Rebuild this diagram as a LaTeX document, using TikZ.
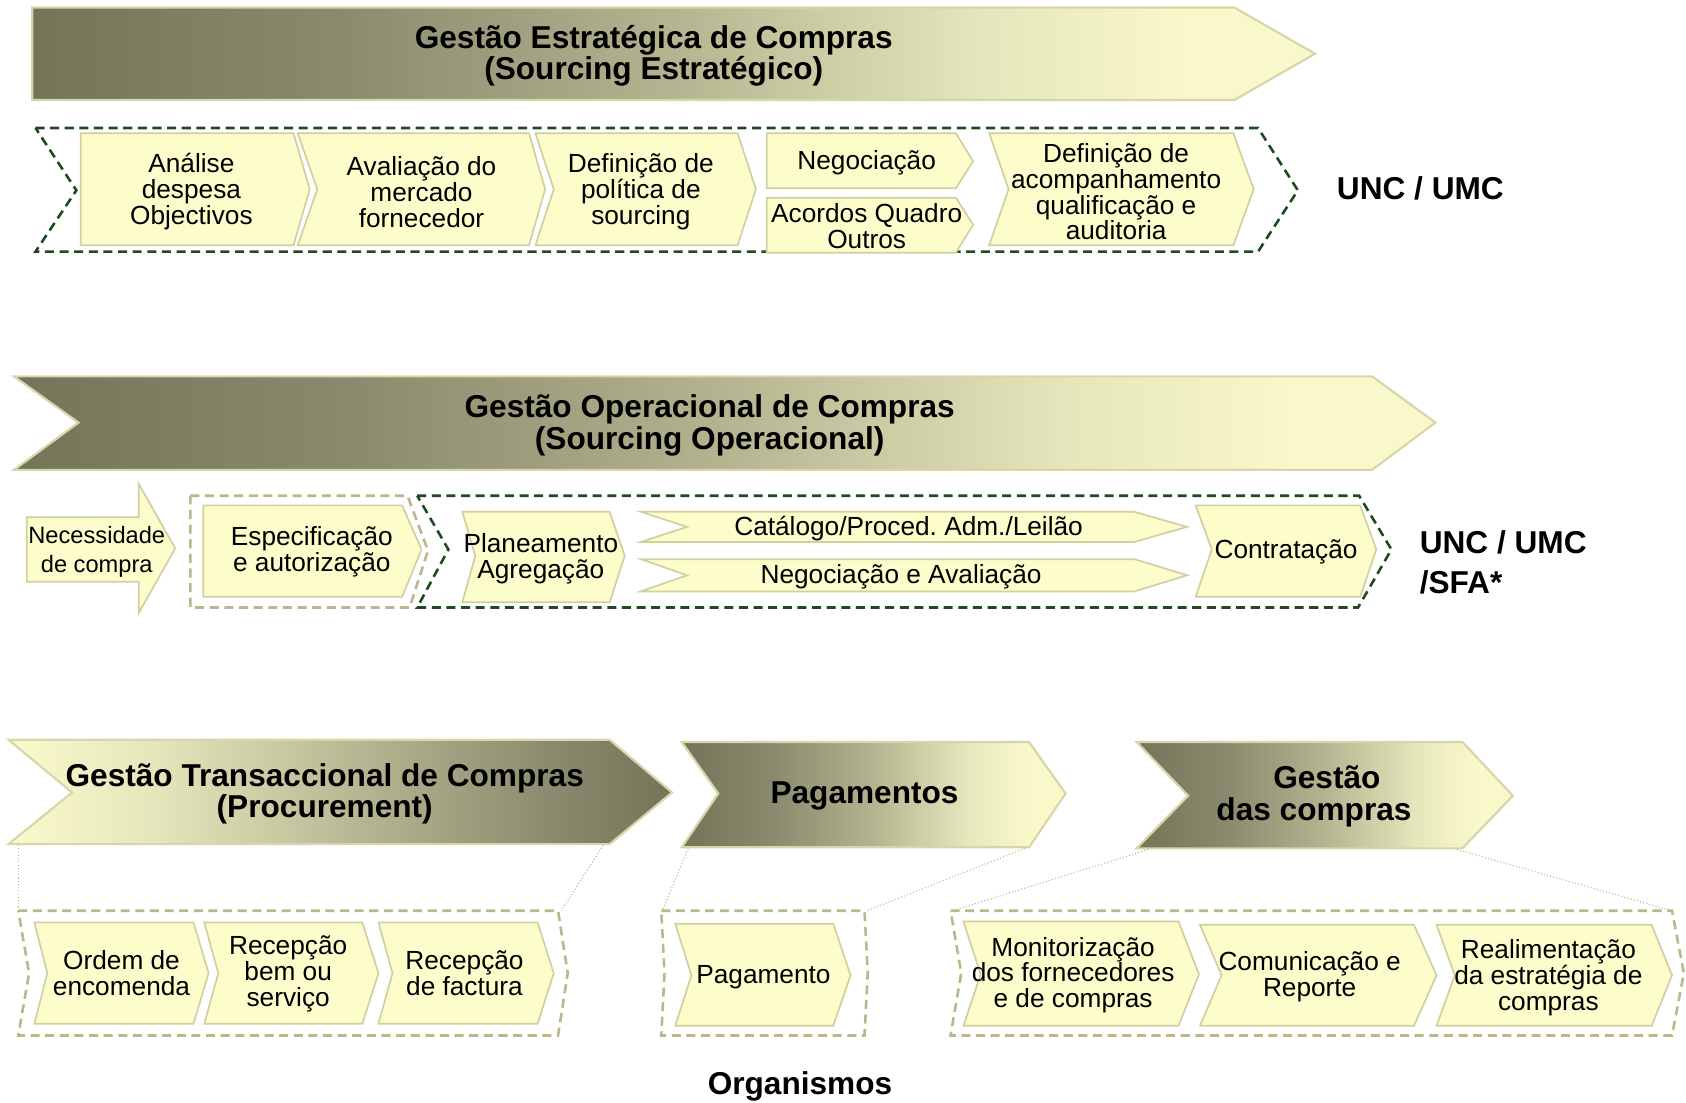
\documentclass[tikz,border=0pt]{standalone}
\usepackage{fontspec}
\setmainfont{Liberation Sans}
\frenchspacing
\definecolor{dk}{HTML}{747459}
\definecolor{dkm}{HTML}{8A8A6E}
\definecolor{md}{HTML}{B4B490}
\definecolor{ltm}{HTML}{E6E6BC}
\definecolor{lt}{HTML}{F8F8CB}
\definecolor{boxfill}{HTML}{FDFDCC}
\definecolor{boxline}{HTML}{D0D0A0}
\definecolor{bannerline}{HTML}{D6D6A8}
\definecolor{frgreen}{HTML}{1E4B1E}
\definecolor{frbeige}{HTML}{BDB689}
\pgfdeclarehorizontalshading{darklight}{100bp}{color(0bp)=(dk); color(25bp)=(dk); color(37bp)=(dkm); color(50bp)=(md); color(62bp)=(ltm); color(70bp)=(lt); color(100bp)=(lt)}
\pgfdeclarehorizontalshading{lightdark}{100bp}{color(0bp)=(lt); color(26bp)=(lt); color(36bp)=(ltm); color(52bp)=(md); color(66bp)=(dkm); color(75bp)=(dk); color(100bp)=(dk)}
\begin{document}
\begin{tikzpicture}[x=0.5pt,y=-0.5pt,
  box/.style={fill=boxfill, draw=boxline, line width=0.8pt},
  banner/.style={draw=bannerline, line width=1pt, shade, shading=darklight},
  bannerR/.style={draw=bannerline, line width=1pt, shade, shading=lightdark},
  gframe/.style={draw=frgreen, line width=1.2pt, dash pattern=on 4.2pt off 2.6pt},
  bframe/.style={draw=frbeige, line width=1.2pt, dash pattern=on 4.2pt off 2.6pt},
  dotl/.style={draw=frbeige, line width=0.5pt, dash pattern=on 0.5pt off 1pt},
  txt/.style={align=center, inner sep=0pt, yshift=-1.2pt, font=\fontsize{12.2}{12}\selectfont},
  ttl/.style={align=center, inner sep=0pt, yshift=-1.3pt, font=\bfseries\fontsize{14.7}{14.5}\selectfont}]
\useasboundingbox (0,0) rectangle (1568,1025);

% ---------- Row 1 ----------
\path[banner] (30,7) -- (1148,7) -- (1223,50) -- (1148,93) -- (30,93) -- cycle;
\node[ttl] (b1) at (608,49) {Gestão Estratégica de Compras\\(Sourcing Estratégico)};
\path[gframe] (33,119) -- (1170,119) -- (1207,177) -- (1170,234) -- (33,234) -- (71,177) -- cycle;
\path[box] (75,124) -- (273,124) -- (288,176) -- (273,228) -- (75,228) -- cycle;
\node[txt] (a1) at (178,176) {Análise\\despesa\\Objectivos};
\path[box] (277,124) -- (492,124) -- (507,176) -- (492,228) -- (277,228) -- (295,176) -- cycle;
\node[txt] (a2) at (392,176) {Avaliação do\\mercado\\fornecedor};
\path[box] (498,124) -- (686,124) -- (703,176) -- (686,228) -- (498,228) -- (515,176) -- cycle;
\node[txt] (a3) at (596,176) {Definição de\\política de\\sourcing};
\path[box] (713,124) -- (889,124) -- (905,150) -- (889,175) -- (713,175) -- cycle;
\node[txt] (a4) at (806,149) {Negociação};
\path[box] (713,184) -- (889,184) -- (905,209) -- (889,235) -- (713,235) -- cycle;
\node[txt] (a5) at (806,208) {Acordos Quadro\\Outros};
\path[box] (920,124) -- (1147,124) -- (1166,176) -- (1147,228) -- (920,228) -- (938,176) -- cycle;
\node[txt] (a6) at (1038,176) {Definição de\\acompanhamento\\qualificação e\\auditoria};
\node[ttl, anchor=west] (u1) at (1243,172.5) {UNC / UMC};

% ---------- Row 2 ----------
\path[banner] (13,350) -- (1276,350) -- (1335,393) -- (1276,437) -- (13,437) -- (73,393) -- cycle;
\node[ttl] (b2) at (660,393) {Gestão Operacional de Compras\\(Sourcing Operacional)};
\path[box] (25,481) -- (129,481) -- (129,450) -- (163,510) -- (129,570) -- (129,541) -- (25,541) -- cycle;
\node[align=center, inner sep=0pt, yshift=-1.3pt, font=\fontsize{11}{13.5}\selectfont] (n1) at (90,510.5) {Necessidade\\de compra};
\path[bframe] (177,461) -- (379,461) -- (398,512) -- (381,565) -- (177,565) -- cycle;
\path[gframe] (388,461) -- (1264,461) -- (1294,511) -- (1263,565) -- (388,565) -- (417,511) -- cycle;
\path[box] (189,470) -- (374,470) -- (392,511) -- (374,555) -- (189,555) -- cycle;
\node[txt] (e1) at (290,511) {Especificação\\e autorização};
\path[box] (430,476) -- (567,476) -- (581,517) -- (567,560) -- (430,560) -- (442,517) -- cycle;
\node[txt] (p1) at (503,517) {Planeamento\\Agregação};
\path[box] (596,476) -- (1055,476) -- (1104,490) -- (1055,504) -- (596,504) -- (639,490) -- cycle;
\node[txt] (c1) at (845,489) {Catálogo/Proced. Adm./Leilão};
\path[box] (596,520) -- (1055,520) -- (1104,535) -- (1055,550) -- (596,550) -- (639,535) -- cycle;
\node[txt] (c2) at (838,534) {Negociação e Avaliação};
\path[box] (1112,470) -- (1265,470) -- (1280,511) -- (1265,555) -- (1112,555) -- (1127,511) -- cycle;
\node[txt] (k1) at (1196,511) {Contratação};
\node[align=left, inner sep=0pt, anchor=north west, font=\bfseries\fontsize{14.7}{18.5}\selectfont] (u2) at (1320,493) {UNC / UMC\\/SFA*};

% ---------- Row 3 ----------
\path[bannerR] (8,688) -- (567,688) -- (625,737) -- (567,785) -- (8,785) -- (67,737) -- cycle;
\node[ttl] (b3) at (302,736) {Gestão Transaccional de Compras\\(Procurement)};
\path[banner] (634,690) -- (957,690) -- (991,738) -- (957,788) -- (634,788) -- (668,738) -- cycle;
\node[ttl] (b4) at (804,738) {Pagamentos};
\path[banner] (1057,690) -- (1360,690) -- (1407,740) -- (1360,789) -- (1057,789) -- (1105,740) -- cycle;
\node[ttl] (b5) at (1222,738) {\hspace*{12pt}Gestão\\das compras};

\coordinate (t3bl) at (17,786);
\coordinate (t3br) at (561,786);
\coordinate (t4bl) at (640,789);
\coordinate (t4br) at (953,789);
\coordinate (t5bl) at (1068,790);
\coordinate (t5br) at (1355,790);
\coordinate (f1tl) at (17,847);
\coordinate (f1tr) at (522,847);
\coordinate (f2tl) at (616,847);
\coordinate (f2tr) at (806,847);
\coordinate (f3tl) at (886,847);
\coordinate (f3tr) at (1555,847);
\draw[dotl] (t3bl) -- (f1tl);
\draw[dotl] (t3br) -- (f1tr);
\draw[dotl] (t4bl) -- (f2tl);
\draw[dotl] (t4br) -- (f2tr);
\draw[dotl] (t5bl) -- (f3tl);
\draw[dotl] (t5br) -- (f3tr);

\path[bframe] (17,847) -- (519,847) -- (528,905) -- (519,963) -- (17,963) -- (27,905) -- cycle;
\path[bframe] (615,847) -- (804,847) -- (807,905) -- (804,963) -- (615,963) -- (618,905) -- cycle;
\path[bframe] (884,847) -- (1555,847) -- (1566,905) -- (1555,963) -- (884,963) -- (894,905) -- cycle;

\path[box] (32,858) -- (180,858) -- (194,905) -- (180,952) -- (32,952) -- (44,905) -- cycle;
\node[txt] (o1) at (113,902.5) {Ordem de\\encomenda};
\path[box] (190,858) -- (337,858) -- (352,905) -- (337,952) -- (190,952) -- (203,905) -- cycle;
\node[txt] (o2) at (268,903.5) {Recepção\\bem ou\\serviço};
\path[box] (352,858) -- (500,858) -- (515,905) -- (500,952) -- (352,952) -- (365,905) -- cycle;
\node[txt] (o3) at (432,902.5) {Recepção\\de factura};
\path[box] (628,859) -- (775,859) -- (791,907) -- (775,954) -- (628,954) -- (643,907) -- cycle;
\node[txt] (o4) at (710,906) {Pagamento};
\path[box] (896,857) -- (1096,857) -- (1115,906) -- (1096,954) -- (896,954) -- (912,906) -- cycle;
\node[txt] (o5) at (998,904.5) {Monitorização\\dos fornecedores\\e de compras};
\path[box] (1116,860) -- (1315,860) -- (1336,907) -- (1315,954) -- (1116,954) -- (1136,907) -- cycle;
\node[txt] (o6) at (1218,906) {Comunicação e\\Reporte};
\path[box] (1336,860) -- (1536,860) -- (1555,907) -- (1536,954) -- (1336,954) -- (1353,907) -- cycle;
\node[txt] (o7) at (1440,907) {Realimentação\\da estratégia de\\compras};

\node[ttl] (org) at (744,1008) {Organismos};
\end{tikzpicture}
\end{document}
